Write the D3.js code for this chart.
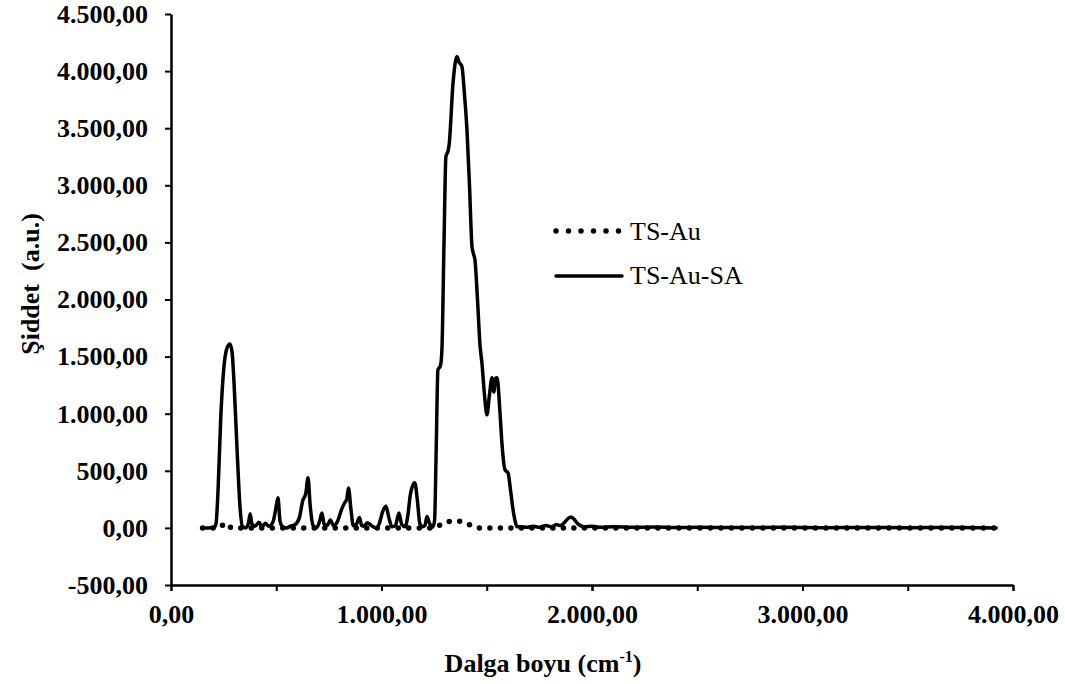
<!DOCTYPE html>
<html>
<head>
<meta charset="utf-8">
<script src="https://cdn.jsdelivr.net/npm/d3@7"></script>
<style>
  html, body { margin: 0; padding: 0; background: #fff; }
  svg { display: block; }
  svg text { font-family: "Liberation Serif", "Times New Roman", serif; fill: #000; }
</style>
</head>
<body>
<svg id="chart" width="1065" height="684"></svg>
<script>
// ---- data ----
const seriesNames = ["TS-Au", "TS-Au-SA"];
const xTicks = [0, 1000, 2000, 3000, 4000];
const xMinorTicks = [0, 500, 1000, 1500, 2000, 2500, 3000, 3500, 4000];
const yTicks = [-500, 0, 500, 1000, 1500, 2000, 2500, 3000, 3500, 4000, 4500];

// TS-Au (dotted) : [wavenumber, intensity]
const tsAu = [
  [150, 0], [230, 0], [245, 25], [257, 45], [270, 25], [290, 0], [600, 0], [900, 0],
  [1250, 0], [1270, 15], [1290, 40], [1310, 48], [1335, 62], [1360, 60], [1385, 55],
  [1410, 35], [1440, 10], [1460, 0], [2000, 0], [3000, 0], [3920, 0]
];

// TS-Au-SA (solid) : [wavenumber, intensity]
const tsAuSA = [
  [152, 0], [175, 0], [205, 5], [214, 40], [224, 350], [236, 950], [250, 1380], [265, 1570],
  [280, 1610], [290, 1540], [300, 1250], [315, 640], [328, 180], [340, 10], [355, 0],
  [368, 40], [376, 125], [385, 30], [400, 15], [418, 50], [432, 10], [448, 40], [465, 15],
  [485, 55], [498, 170], [508, 265], [518, 60], [530, 10], [548, 0], [568, 15], [590, 30],
  [610, 90], [626, 240], [640, 300], [651, 440], [661, 200], [675, 20], [690, 0], [705, 50],
  [717, 130], [728, 30], [742, 20], [757, 70], [772, 20], [792, 60], [810, 160], [825, 220],
  [835, 250], [843, 350], [855, 160], [866, 20], [880, 30], [895, 90], [906, 20], [918, 15],
  [932, 45], [946, 30], [960, 10], [975, 0], [990, 40], [1005, 140], [1021, 190], [1035, 90],
  [1050, 10], [1066, 20], [1083, 130], [1096, 30], [1112, 10], [1126, 120], [1136, 280],
  [1148, 370], [1158, 395], [1170, 250], [1182, 40], [1195, 10], [1206, 20], [1216, 100],
  [1228, 40], [1242, 5], [1252, 60], [1260, 700], [1268, 1384], [1280, 1420], [1287, 1560],
  [1297, 2500], [1306, 3250], [1316, 3300], [1321, 3350], [1340, 3900], [1352, 4090],
  [1359, 4125], [1368, 4080], [1382, 4040], [1394, 3800], [1406, 3485], [1418, 3000],
  [1430, 2460], [1437, 2400], [1444, 2347], [1456, 2000], [1468, 1600], [1477, 1445],
  [1490, 1150], [1501, 990], [1512, 1150], [1525, 1314], [1534, 1190], [1541, 1310],
  [1549, 1314], [1563, 1007], [1572, 744], [1587, 508], [1601, 482], [1613, 330],
  [1625, 158], [1636, 50], [1644, 9], [1665, 10], [1690, 5], [1720, 15], [1750, 5],
  [1780, 20], [1810, 10], [1830, 30], [1850, 20], [1868, 45], [1885, 80], [1900, 96],
  [1915, 75], [1930, 40], [1945, 20], [1965, 10], [2000, 15], [2040, 5], [2100, 10],
  [2200, 5], [2300, 8], [2400, 3], [2500, 6], [2700, 3], [2900, 5], [3100, 2], [3300, 4],
  [3500, 2], [3700, 3], [3920, 0]
];

// ---- layout ----
const FONT = "Liberation Serif, Times New Roman, serif";
const svg = d3.select("#chart");
const x = d3.scaleLinear().domain([0, 4000]).range([171, 1013]);
const y = d3.scaleLinear().domain([-500, 4500]).range([585, 14]);

const locale = d3.formatLocale({ decimal: ",", thousands: ".", grouping: [3], currency: ["", ""], minus: "-" });
const fmt = locale.format(",.2f");

// x axis (minor ticks)
svg.append("g")
  .attr("transform", `translate(0,${y(-500)})`)
  .call(d3.axisBottom(x).tickValues(xMinorTicks).tickSize(6).tickSizeOuter(0).tickFormat(""))
  .call(g => g.selectAll("line").attr("stroke-width", 2))
  .call(g => g.select(".domain").attr("stroke-width", 2.5));

// x axis labels
svg.append("g")
  .attr("transform", `translate(0,${y(-500)})`)
  .call(d3.axisBottom(x).tickValues(xTicks).tickSize(6).tickPadding(14).tickSizeOuter(0).tickFormat(fmt))
  .attr("font-family", FONT)
  .call(g => g.select(".domain").remove())
  .call(g => g.selectAll("line").attr("stroke-width", 2))
  .call(g => g.selectAll("text").attr("font-size", 26).attr("font-weight", "bold"));

// y axis
svg.append("g")
  .attr("transform", `translate(${x(0)},0)`)
  .call(d3.axisLeft(y).tickValues(yTicks).tickSize(6).tickPadding(17).tickSizeOuter(0).tickFormat(fmt))
  .attr("font-family", FONT)
  .call(g => g.selectAll("line").attr("stroke-width", 2))
  .call(g => g.select(".domain").attr("stroke-width", 2.5))
  .call(g => g.selectAll("text").attr("font-size", 26).attr("font-weight", "bold"));

// lines
const line = d3.line().x(d => x(d[0])).y(d => y(d[1])).curve(d3.curveMonotoneX);

svg.append("path").datum(tsAu)
  .attr("d", line).attr("fill", "none").attr("stroke", "#000")
  .attr("stroke-width", 5.5).attr("stroke-linecap", "round").attr("stroke-dasharray", "0,10.5");

svg.append("path").datum(tsAuSA)
  .attr("d", line).attr("fill", "none").attr("stroke", "#000")
  .attr("stroke-width", 3.5).attr("stroke-linejoin", "round").attr("stroke-linecap", "round");

// legend
const legend = svg.append("g").attr("font-family", FONT);
legend.append("line").attr("x1", 556).attr("x2", 620).attr("y1", 231).attr("y2", 231)
  .attr("stroke", "#000").attr("stroke-width", 5.5).attr("stroke-linecap", "round")
  .attr("stroke-dasharray", "0,12.5");
legend.append("text").attr("x", 630).attr("y", 240).attr("font-size", 26).text(seriesNames[0]);
legend.append("line").attr("x1", 556).attr("x2", 622).attr("y1", 276).attr("y2", 276)
  .attr("stroke", "#000").attr("stroke-width", 3.5).attr("stroke-linecap", "round");
legend.append("text").attr("x", 630).attr("y", 284).attr("font-size", 26).text(seriesNames[1]);

// axis titles
const xt = svg.append("text").attr("x", 543).attr("y", 672).attr("text-anchor", "middle")
  .attr("font-family", FONT).attr("font-size", 26).attr("font-weight", "bold");
xt.append("tspan").text("Dalga boyu (cm");
xt.append("tspan").attr("font-size", 16).attr("dy", -10).text("-1");
xt.append("tspan").attr("dy", 10).text(")");

svg.append("text").attr("transform", "translate(39,284) rotate(-90)")
  .attr("text-anchor", "middle").attr("font-family", FONT).attr("font-size", 26).attr("font-weight", "bold")
  .style("white-space", "pre")
  .text("Şiddet  (a.u.)");
</script>
</body>
</html>
